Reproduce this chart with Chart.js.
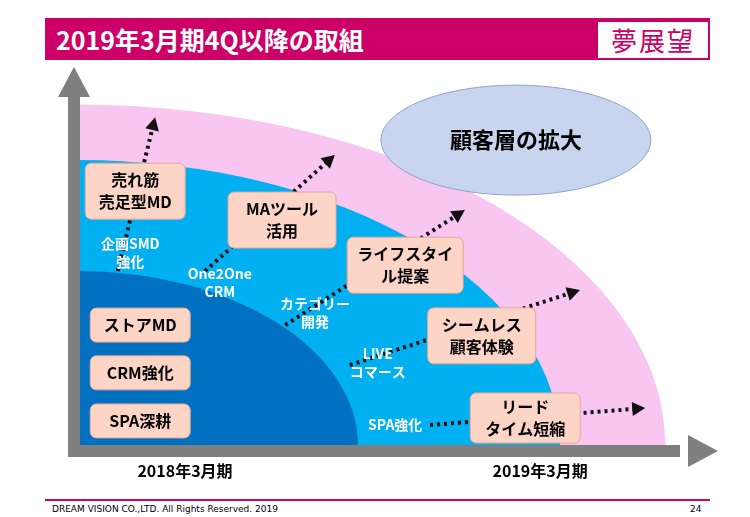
<!DOCTYPE html>
<html><head><meta charset="utf-8">
<script src="https://cdn.jsdelivr.net/npm/chart.js@4"></script>
<style>
body{margin:0;width:750px;height:517px;position:relative;background:#fff;font-family:"Noto Sans CJK JP",sans-serif;overflow:hidden}
#hdr{position:absolute;left:45px;top:18px;width:665px;height:42px;background:#cc0066}
#ttl{position:absolute;left:56px;top:18px;color:#fff;font-weight:bold;font-size:25px;line-height:42px}
#logo{position:absolute;left:597px;top:21px;width:110px;height:36px;background:#fff;color:#cc0066;font-size:26px;text-align:center;line-height:36px;border:1px solid #cc0066;letter-spacing:2px}
#foot{position:absolute;left:45px;top:499px;width:665px;height:2px;background:#cc0066}
#ft{position:absolute;left:52px;top:504px;font-size:9px;font-family:"DejaVu Sans"}
#pg{position:absolute;left:690px;top:504px;font-size:9px;font-family:"DejaVu Sans"}
canvas{position:absolute;left:0;top:0}
</style></head><body>
<div id="hdr"></div><div id="ttl">2019年3月期4Q以降の取組</div><div id="logo">夢展望</div>
<div id="foot"></div><div id="ft">DREAM VISION CO.,LTD. All Rights Reserved. 2019</div><div id="pg">24</div>
<canvas id="c" width="750" height="517"></canvas>
<script>
// bands: [rx, ry, colour]
const bandRadiiX=[94.4,77.5,45];
const bandRadiiY=[92,77,47];
const bandColors=['#f9c6f2','#00b0f0','#0070c0'];
// arrows (data units)
const arrowFrom=[[6.4,47],[20.4,47],[33.3,32.4],[43.7,21.6],[56.6,5.4]];
const arrowTo=[[12.4,88.6],[41.3,78.4],[62.2,63.5],[80.7,41.9],[91.2,10]];
// boxes
const boxLabels=['売れ筋\n売足型MD','MAツール\n活用','ライフスタイ\nル提案','シームレス\n顧客体験','リード\nタイム短縮','ストアMD','CRM強化','SPA深耕'];
const boxPos=[[9.2,68.6],[32.8,60.8],[52.6,48.6],[64.9,29.5],[71.9,7.3],[10,32.4],[10,19.5],[10,6.5]];
const boxSize=[[100,56],[108,56],[116,56],[108,56],[110,50],[100,34],[100,34],[100,34]];
// white labels
const wLabels=['企画SMD\n強化','One2One\nCRM','カテゴリー\n開発','LIVE\nコマース','SPA強化'];
const wPos=[[8.4,52],[22.8,43.8],[38.1,35.7],[48.2,22.2],[51,5.4]];
const periodLabels=['2018年3月期','2019年3月期'];
const periodPos=[[17.2,-7],[74.3,-7]];

const draw={id:'d',beforeDatasetsDraw(ch){
 const c=ch.ctx,X=ch.scales.x,Y=ch.scales.y;
 const px=v=>X.getPixelForValue(v),py=v=>Y.getPixelForValue(v);
 const ox=px(0),oy=py(0);
 c.save();
 bandRadiiX.forEach((rx,i)=>{c.beginPath();c.moveTo(ox,oy);c.ellipse(ox,oy,px(rx)-ox,oy-py(bandRadiiY[i]),0,-Math.PI/2,0);c.closePath();c.fillStyle=bandColors[i];c.fill();});
 // ellipse
 c.beginPath();c.ellipse(px(70.4),py(82.4),135,55,0,0,Math.PI*2);c.fillStyle='#c9d5ee';c.fill();c.strokeStyle='#8fa3d0';c.lineWidth=1;c.stroke();
 c.fillStyle='#000';c.font='bold 22px "Noto Sans CJK JP"';c.textAlign='center';c.textBaseline='middle';c.fillText('顧客層の拡大',px(70.4),py(82.4));
 // axes
 c.fillStyle='#7f7f7f';
 c.fillRect(ox-10,py(100)+20,12,oy-py(100)-10);
 c.beginPath();c.moveTo(ox-4-16,py(100)+22);c.lineTo(ox-4,py(100)-8);c.lineTo(ox-4+16,py(100)+22);c.fill();
 c.fillRect(ox-10,oy,px(100)-ox-10,12);
 c.beginPath();c.moveTo(px(100)-12,oy-10);c.lineTo(px(100)+18,oy+6);c.lineTo(px(100)-12,oy+22);c.fill();
 // arrows
 c.strokeStyle='#111';c.fillStyle='#111';
 arrowFrom.forEach((f,i)=>{const x1=px(f[0]),y1=py(f[1]),x2=px(arrowTo[i][0]),y2=py(arrowTo[i][1]);
  const a=Math.atan2(y2-y1,x2-x1);c.setLineDash([3,4]);c.lineWidth=4;c.beginPath();c.moveTo(x1,y1);c.lineTo(x2-8*Math.cos(a),y2-8*Math.sin(a));c.stroke();c.setLineDash([]);
  c.beginPath();c.moveTo(x2,y2);c.lineTo(x2-13*Math.cos(a)+7*Math.sin(a),y2-13*Math.sin(a)-7*Math.cos(a));c.lineTo(x2-13*Math.cos(a)-7*Math.sin(a),y2-13*Math.sin(a)+7*Math.cos(a));c.fill();});
 // white labels
 c.fillStyle='#fff';c.font='bold 14px "Noto Sans CJK JP"';
 wLabels.forEach((t,i)=>t.split('\n').forEach((l,j,a)=>c.fillText(l,px(wPos[i][0]),py(wPos[i][1])+(j-(a.length-1)/2)*18)));
 // boxes
 boxLabels.forEach((t,i)=>{const x=px(boxPos[i][0]),y=py(boxPos[i][1]),w=boxSize[i][0],h=boxSize[i][1];
  c.beginPath();c.roundRect(x-w/2,y-h/2,w,h,6);c.fillStyle='#fcd5c6';c.fill();c.strokeStyle='#e6a79a';c.lineWidth=1;c.stroke();
  c.fillStyle='#000';c.font='bold 16px "Noto Sans CJK JP"';
  t.split('\n').forEach((l,j,a)=>c.fillText(l,x,y+(j-(a.length-1)/2)*22));});
 c.font='bold 16px "Noto Sans CJK JP"';c.fillStyle='#000';
 periodLabels.forEach((t,i)=>c.fillText(t,px(periodPos[i][0]),py(periodPos[i][1])));
 c.restore();}};
new Chart(document.getElementById('c'),{type:'scatter',data:{datasets:[{data:[]}]},
 options:{responsive:false,animation:false,layout:{padding:{left:78,right:50,top:75,bottom:72}},
 plugins:{legend:{display:false},tooltip:{enabled:false}},
 scales:{x:{min:0,max:100,display:false},y:{min:0,max:100,display:false}}},plugins:[draw]});
</script></body></html>
